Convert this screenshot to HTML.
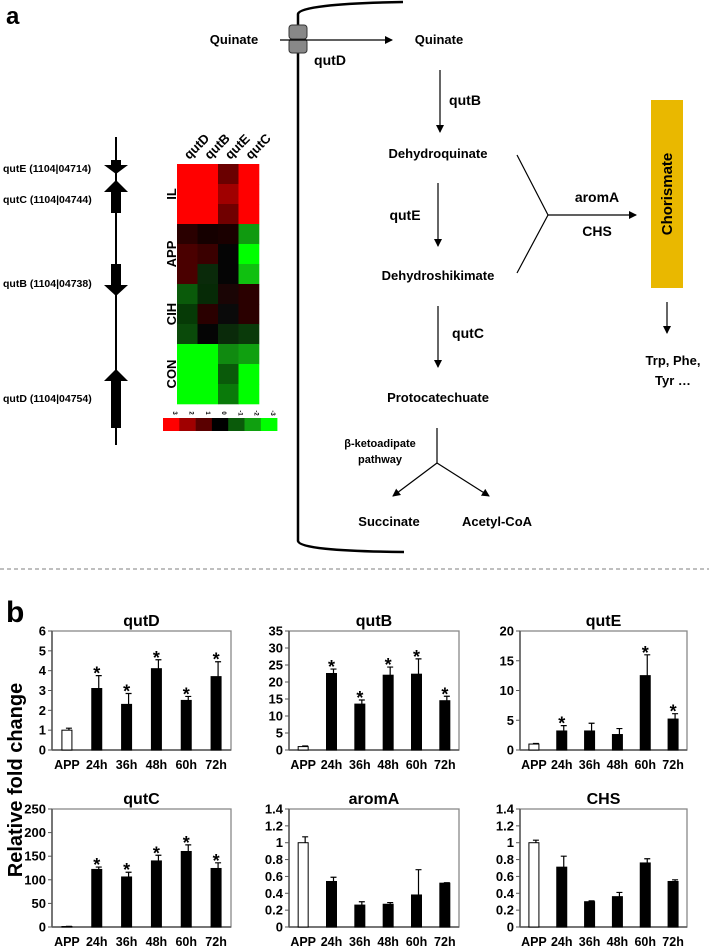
<!DOCTYPE html>
<html><head><meta charset="utf-8">
<style>
html,body{margin:0;padding:0;background:#fff;}
svg{display:block;font-family:"Liberation Sans",Arial,sans-serif;font-weight:bold;}
</style></head>
<body>
<svg id="fig" width="709" height="947" viewBox="0 0 709 947" xmlns="http://www.w3.org/2000/svg">
<defs>
<marker id="ah" markerWidth="8" markerHeight="8" refX="7" refY="4" orient="auto" markerUnits="userSpaceOnUse"><path d="M0,0 L8,4 L0,8 z" fill="#000"/></marker>
</defs>
<text x="6" y="24" font-size="24">a</text>

<g>
<line x1="116" y1="137" x2="116" y2="445" stroke="#000" stroke-width="2"/>
<polygon points="111,160 121,160 121,165 128,165 116,174 104,165 111,165" fill="#000"/>
<polygon points="116,180 128,192 121,192 121,213 111,213 111,192 104,192" fill="#000"/>
<polygon points="111,264 121,264 121,285 128,285 116,296 104,285 111,285" fill="#000"/>
<polygon points="116,369 128,381 121,381 121,428 111,428 111,381 104,381" fill="#000"/>
<g font-size="10.5">
<text x="3" y="172">qutE (1104|04714)</text>
<text x="3" y="203">qutC (1104|04744)</text>
<text x="3" y="287">qutB (1104|04738)</text>
<text x="3" y="402">qutD (1104|04754)</text>
</g>
</g>

<g id="heatmap"></g>

<g font-size="13">
<path d="M403,2 Q300,4 298,14 L298,541 Q300,551 404,552" fill="none" stroke="#000" stroke-width="2.5"/>
<rect x="289" y="25" width="18" height="14" rx="3" fill="#888" stroke="#333"/>
<rect x="289" y="39" width="18" height="14" rx="3" fill="#888" stroke="#333"/>
<line x1="280" y1="40" x2="392" y2="40" stroke="#000" stroke-width="1.2" marker-end="url(#ah)"/>
<text x="234" y="44" text-anchor="middle">Quinate</text>
<text x="439" y="44" text-anchor="middle">Quinate</text>
<text x="330" y="65" text-anchor="middle" font-size="14">qutD</text>
<line x1="440" y1="70" x2="440" y2="132" stroke="#000" stroke-width="1.2" marker-end="url(#ah)"/>
<text x="465" y="105" text-anchor="middle" font-size="14">qutB</text>
<text x="438" y="158" text-anchor="middle">Dehydroquinate</text>
<line x1="438" y1="183" x2="438" y2="246" stroke="#000" stroke-width="1.2" marker-end="url(#ah)"/>
<text x="405" y="220" text-anchor="middle" font-size="14">qutE</text>
<text x="438" y="280" text-anchor="middle">Dehydroshikimate</text>
<line x1="438" y1="306" x2="438" y2="367" stroke="#000" stroke-width="1.2" marker-end="url(#ah)"/>
<text x="468" y="338" text-anchor="middle" font-size="14">qutC</text>
<text x="438" y="402" text-anchor="middle">Protocatechuate</text>
<polyline points="517,155 548,215 517,273" fill="none" stroke="#000" stroke-width="1.2"/>
<line x1="548" y1="215" x2="636" y2="215" stroke="#000" stroke-width="1.2" marker-end="url(#ah)"/>
<text x="597" y="202" text-anchor="middle" font-size="14">aromA</text>
<text x="597" y="236" text-anchor="middle" font-size="14">CHS</text>
<rect x="651" y="100" width="32" height="188" fill="#e9b800"/>
<text transform="translate(672,194) rotate(-90)" text-anchor="middle" font-size="15">Chorismate</text>
<line x1="667" y1="302" x2="667" y2="333" stroke="#000" stroke-width="1.2" marker-end="url(#ah)"/>
<text x="673" y="365" text-anchor="middle">Trp, Phe,</text>
<text x="673" y="385" text-anchor="middle">Tyr …</text>
<line x1="437" y1="428" x2="437" y2="463" stroke="#000" stroke-width="1.2"/>
<line x1="437" y1="463" x2="393" y2="496" stroke="#000" stroke-width="1.2" marker-end="url(#ah)"/>
<line x1="437" y1="463" x2="489" y2="496" stroke="#000" stroke-width="1.2" marker-end="url(#ah)"/>
<text x="380" y="447" text-anchor="middle" font-size="11">β-ketoadipate</text>
<text x="380" y="463" text-anchor="middle" font-size="11">pathway</text>
<text x="389" y="526" text-anchor="middle">Succinate</text>
<text x="497" y="526" text-anchor="middle">Acetyl-CoA</text>
</g>

<line x1="0" y1="569" x2="709" y2="569" stroke="#999" stroke-width="1.2" stroke-dasharray="4,3"/>
<text x="6" y="622" font-size="30">b</text>
<text transform="translate(22,780) rotate(-90)" text-anchor="middle" font-size="20">Relative fold change</text>
<g id="charts"></g>
</svg>
<script>
var hmGenes = ["qutD","qutB","qutE","qutC"];
var hmGroups = ["IL","APP","CIH","CON"];
var hmColors = [
 ["#ff0000","#ff0000","#6a0000","#ff0000"],
 ["#ff0000","#ff0000","#a00000","#ff0000"],
 ["#ff0000","#ff0000","#700000","#ff0000"],
 ["#2a0000","#150000","#1a0000","#109a10"],
 ["#4a0000","#3a0000","#050505","#00ff00"],
 ["#4a0000","#0a2a0a","#050505","#10c010"],
 ["#0a5a0a","#062a06","#1a0505","#2a0000"],
 ["#063a06","#2a0000","#0a0a0a","#2a0000"],
 ["#0a4a0a","#050505","#0a2a0a","#0a3a0a"],
 ["#00ff00","#00ff00","#108a10","#10a010"],
 ["#00ff00","#00ff00","#0a5a0a","#00ff00"],
 ["#00ff00","#00ff00","#0a7a0a","#00ff00"]
];
var scaleLabels = ["3","2","1","0","-1","-2","-3"];
var scaleColors = ["#ff0000","#a00000","#5a0000","#000000","#0a5a0a","#10a010","#00ff00"];

var categories = ["APP","24h","36h","48h","60h","72h"];
var chartTitles = ["qutD","qutB","qutE","qutC","aromA","CHS"];
var qutDVals = [1.0,3.1,2.3,4.1,2.5,3.7];
var qutDErr = [0.1,0.65,0.55,0.45,0.2,0.75];
var qutDSig = [0,1,1,1,1,1];
var qutBVals = [1.0,22.5,13.5,22.0,22.3,14.5];
var qutBErr = [0.2,1.3,1.2,2.4,4.5,1.3];
var qutBSig = [0,1,1,1,1,1];
var qutEVals = [1.0,3.2,3.2,2.6,12.5,5.2];
var qutEErr = [0.1,0.9,1.3,1.0,3.5,0.9];
var qutESig = [0,1,0,0,1,1];
var qutCVals = [1,122,106,140,160,124];
var qutCErr = [0.5,5,10,12,14,12];
var qutCSig = [0,1,1,1,1,1];
var aromAVals = [1.0,0.54,0.26,0.27,0.38,0.52];
var aromAErr = [0.07,0.05,0.04,0.02,0.3,0.005];
var aromASig = [0,0,0,0,0,0];
var chsVals = [1.0,0.71,0.30,0.36,0.76,0.54];
var chsErr = [0.03,0.13,0.01,0.05,0.05,0.02];
var chsSig = [0,0,0,0,0,0];
var qutDTicks = [0,1,2,3,4,5,6];
var qutBTicks = [0,5,10,15,20,25,30,35];
var qutETicks = [0,5,10,15,20];
var qutCTicks = [0,50,100,150,200,250];
var fracTicks = ["0","0.2","0.4","0.6","0.8","1","1.2","1.4"];

var NS = "http://www.w3.org/2000/svg";
function mk(tag, attrs, parent){var e=document.createElementNS(NS,tag);for(var k in attrs)e.setAttribute(k,attrs[k]);parent.appendChild(e);return e;}

(function(){
 var g=document.getElementById("heatmap");
 var x0=177,y0=164,cw=20.5,rh=20;
 hmColors.forEach(function(row,r){row.forEach(function(c,ci){
  var cell=mk("rect",{x:x0+ci*cw,y:y0+r*rh,width:cw+0.3,height:rh+0.3,fill:c},g);
  
  
 });});
 hmGenes.forEach(function(n,i){
  var t=mk("text",{transform:"translate("+(x0+i*cw+cw/2+2)+","+(y0-4)+") rotate(-45)","font-size":"13"},g);
  t.textContent=n;
  
  
 });
 hmGroups.forEach(function(n,i){
  var t=mk("text",{transform:"translate(176,"+(y0+i*60+30)+") rotate(-90)","text-anchor":"middle","font-size":"13"},g);
  t.textContent=n;
  
  
 });
 var sw=16.3;
 scaleColors.forEach(function(c,i){
  var r=mk("rect",{x:163+i*sw,y:418,width:sw+0.3,height:13,fill:c},g);
  
  
  var t=mk("text",{transform:"translate("+(163+i*sw+sw/2+2)+",413) rotate(90)","text-anchor":"middle","font-size":"6"},g);
  t.textContent=scaleLabels[i];
  
  
 });
})();

var specs=[
 {v:qutDVals,e:qutDErr,s:qutDSig,ticks:qutDTicks,max:6,x0:52,x1:231,y0:631,y1:750},
 {v:qutBVals,e:qutBErr,s:qutBSig,ticks:qutBTicks,max:35,x0:289,x1:459,y0:631,y1:750},
 {v:qutEVals,e:qutEErr,s:qutESig,ticks:qutETicks,max:20,x0:520,x1:687,y0:631,y1:750},
 {v:qutCVals,e:qutCErr,s:qutCSig,ticks:qutCTicks,max:250,x0:52,x1:231,y0:809,y1:927},
 {v:aromAVals,e:aromAErr,s:aromASig,ticks:fracTicks,max:1.4,x0:289,x1:459,y0:809,y1:927},
 {v:chsVals,e:chsErr,s:chsSig,ticks:fracTicks,max:1.4,x0:520,x1:687,y0:809,y1:927}
];
var root=document.getElementById("charts");
specs.forEach(function(sp,ci){
 var g=mk("g",{},root);
 
 
 function yS(v){return sp.y1-(v/sp.max)*(sp.y1-sp.y0);}
 var bw=(sp.x1-sp.x0)/categories.length;
 function xS(i){return sp.x0+(i+0.5)*bw;}
 var t=mk("text",{x:(sp.x0+sp.x1)/2,y:sp.y0-5,"text-anchor":"middle","font-size":"16"},g);
 t.textContent=chartTitles[ci];
 
 
 var fr=mk("rect",{x:sp.x0,y:sp.y0,width:sp.x1-sp.x0,height:sp.y1-sp.y0,fill:"none",stroke:"#888","stroke-width":"1.3"},g);
 
 
 mk("line",{x1:sp.x0,y1:sp.y0,x2:sp.x0,y2:sp.y1,stroke:"#555","stroke-width":"1.5"},g);
 mk("line",{x1:sp.x0,y1:sp.y1,x2:sp.x1,y2:sp.y1,stroke:"#555","stroke-width":"1.5"},g);
 sp.ticks.forEach(function(tk){
  var val=parseFloat(tk), y=yS(val);
  mk("line",{x1:sp.x0-4,y1:y,x2:sp.x0,y2:y,stroke:"#555","stroke-width":"1"},g);
  var tl=mk("text",{x:sp.x0-6,y:y+4.5,"text-anchor":"end","font-size":"13"},g);
  tl.textContent=tk;
  
  
 });
 categories.forEach(function(c,i){
  var cx=xS(i), w=10, v=sp.v[i];
  var b=mk("rect",{x:cx-w/2,y:yS(v),width:w,height:sp.y1-yS(v),fill:i===0?"#fff":"#000",stroke:"#000","stroke-width":"1"},g);
  
  
  var top=yS(v+sp.e[i]);
  var eb=mk("path",{d:"M"+(cx+2)+","+yS(v)+" L"+(cx+2)+","+top+" M"+(cx-1)+","+top+" L"+(cx+5)+","+top,stroke:"#000","stroke-width":"1.2",fill:"none"},g);
  
  
  if(sp.s[i]){
   var st=mk("text",{x:cx,y:top+4,"text-anchor":"middle","font-size":"18"},g);
   st.textContent="*";
   
   
  }
  var cl=mk("text",{x:cx,y:sp.y1+19,"text-anchor":"middle","font-size":"12.5"},g);
  cl.textContent=c;
  
  
 });
});
</script>
</body></html>
